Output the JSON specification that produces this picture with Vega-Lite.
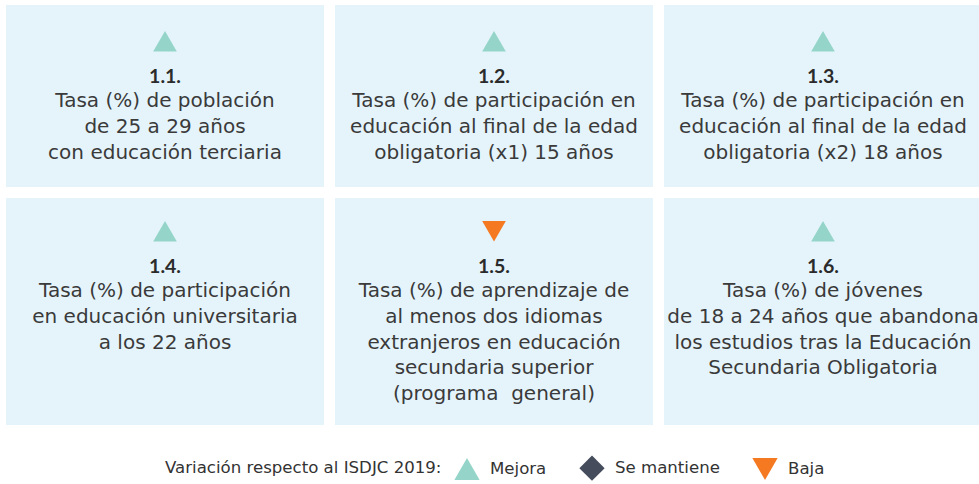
{
  "$schema": "https://vega.github.io/schema/vega-lite/v6.json",
  "background": "white",
  "padding": {"left": 0, "top": 5, "right": 0, "bottom": 0},
  "datasets": {
    "panels": [
      {"id": "1.1.", "row": 1, "col": 1, "estado": "Mejora", "texto": "Tasa (%) de población\nde 25 a 29 años\ncon educación terciaria"},
      {"id": "1.2.", "row": 1, "col": 2, "estado": "Mejora", "texto": "Tasa (%) de participación en\neducación al final de la edad\nobligatoria (x1) 15 años"},
      {"id": "1.3.", "row": 1, "col": 3, "estado": "Mejora", "texto": "Tasa (%) de participación en\neducación al final de la edad\nobligatoria (x2) 18 años"},
      {"id": "1.4.", "row": 2, "col": 1, "estado": "Mejora", "texto": "Tasa (%) de participación\nen educación universitaria\na los 22 años"},
      {"id": "1.5.", "row": 2, "col": 2, "estado": "Baja", "texto": "Tasa (%) de aprendizaje de\nal menos dos idiomas\nextranjeros en educación\nsecundaria superior\n(programa\u00a0 general)"},
      {"id": "1.6.", "row": 2, "col": 3, "estado": "Mejora", "texto": "Tasa (%) de jóvenes\nde 18 a 24 años que abandona\nlos estudios tras la Educación\nSecundaria Obligatoria"}
    ]
  },
  "spacing": 11,
  "resolve": {"scale": {"x": "independent", "y": "independent", "color": "shared", "shape": "shared"}},
  "vconcat": [
    {
      "width": 979,
      "height": 182,
      "data": {"name": "panels"},
      "transform": [{"filter": "datum.row === 1"}],
      "layer": [
        {
          "mark": {"type": "rect", "color": "#E5F4FB"},
          "encoding": {
            "x": {"field": "col", "type": "ordinal", "axis": null, "scale": {"range": [6, 982], "paddingInner": 0.0334, "paddingOuter": 0}}
          }
        },
        {
          "mark": {"type": "point", "filled": true, "size": 560, "opacity": 1},
          "encoding": {
            "x": {"field": "col", "type": "ordinal"},
            "y": {"datum": 0, "type": "quantitative", "axis": null, "scale": {"domain": [-1.418, 5.691], "reverse": true, "nice": false, "zero": false}},
            "shape": {"field": "estado", "type": "nominal", "scale": {"domain": ["Mejora", "Se mantiene", "Baja"], "range": ["triangle-up", "diamond", "triangle-down"]}, "legend": {"title": "Variación respecto al ISDJC 2019:"}},
            "color": {"field": "estado", "type": "nominal", "scale": {"domain": ["Mejora", "Se mantiene", "Baja"], "range": ["#95D5C9", "#454D5D", "#F47920"]}, "legend": {"title": "Variación respecto al ISDJC 2019:"}}
          }
        },
        {
          "mark": {"type": "text", "font": "Lato", "fontWeight": "bold", "fontSize": 19.5, "baseline": "alphabetic", "color": "#2B2B2B"},
          "encoding": {
            "x": {"field": "col", "type": "ordinal"},
            "y": {"datum": 1.62, "type": "quantitative"},
            "text": {"field": "id", "type": "nominal"}
          }
        },
        {
          "mark": {"type": "text", "fontSize": 20, "baseline": "alphabetic", "lineBreak": "\n", "lineHeight": 25.6, "color": "#3A3A3A"},
          "encoding": {
            "x": {"field": "col", "type": "ordinal"},
            "y": {"datum": 2.58, "type": "quantitative"},
            "text": {"field": "texto", "type": "nominal"}
          }
        }
      ]
    },
    {
      "width": 979,
      "height": 227,
      "data": {"name": "panels"},
      "transform": [{"filter": "datum.row === 2"}],
      "layer": [
        {
          "mark": {"type": "rect", "color": "#E5F4FB"},
          "encoding": {
            "x": {"field": "col", "type": "ordinal", "axis": null, "scale": {"range": [6, 982], "paddingInner": 0.0334, "paddingOuter": 0}}
          }
        },
        {
          "mark": {"type": "point", "filled": true, "size": 560, "opacity": 1},
          "encoding": {
            "x": {"field": "col", "type": "ordinal"},
            "y": {"datum": 0, "type": "quantitative", "axis": null, "scale": {"domain": [-1.301, 7.566], "reverse": true, "nice": false, "zero": false}},
            "shape": {"field": "estado", "type": "nominal"},
            "color": {"field": "estado", "type": "nominal"}
          }
        },
        {
          "mark": {"type": "text", "font": "Lato", "fontWeight": "bold", "fontSize": 19.5, "baseline": "alphabetic", "color": "#2B2B2B"},
          "encoding": {
            "x": {"field": "col", "type": "ordinal"},
            "y": {"datum": 1.62, "type": "quantitative"},
            "text": {"field": "id", "type": "nominal"}
          }
        },
        {
          "mark": {"type": "text", "fontSize": 20, "baseline": "alphabetic", "lineBreak": "\n", "lineHeight": 25.6, "color": "#3A3A3A"},
          "encoding": {
            "x": {"field": "col", "type": "ordinal"},
            "y": {"datum": 2.58, "type": "quantitative"},
            "text": {"field": "texto", "type": "nominal"}
          }
        }
      ]
    }
  ],
  "config": {
    "view": {"stroke": null},
    "font": "DejaVu Sans",
    "legend": {
      "orient": "none",
      "legendX": 165,
      "legendY": 450,
      "direction": "horizontal",
      "titleOrient": "left",
      "titleFontSize": 16.6,
      "titleFontWeight": "normal",
      "titleColor": "#333333",
      "titleBaseline": "middle",
      "titlePadding": 12,
      "titleLimit": 400,
      "labelFontSize": 16.6,
      "labelColor": "#333333",
      "labelOffset": 10,
      "labelLimit": 200,
      "columnPadding": 32,
      "symbolSize": 640,
      "symbolStrokeWidth": 0,
      "symbolOpacity": 1
    }
  }
}
